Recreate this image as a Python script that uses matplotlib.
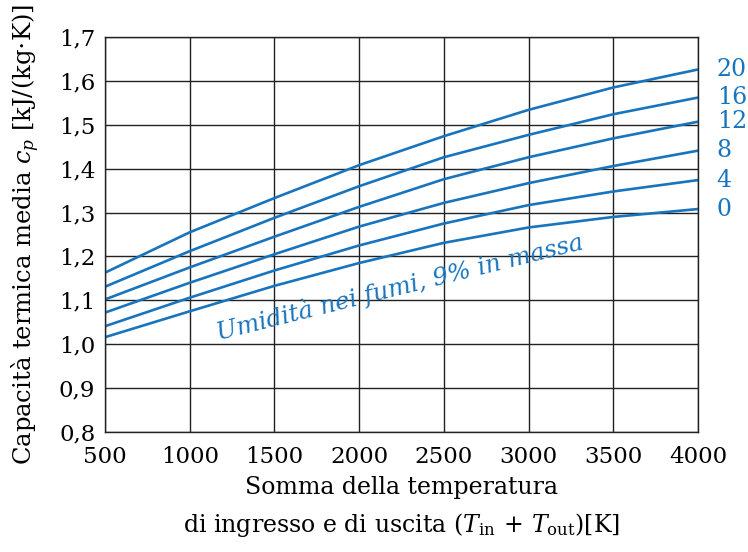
import numpy as np
import matplotlib.pyplot as plt
from matplotlib.ticker import FuncFormatter

plt.rcParams['font.family'] = ['DejaVu Serif']
plt.rcParams['mathtext.fontset'] = 'dejavuserif'

# data
temp_sum = [500, 1000, 1500, 2000, 2500, 3000, 3500, 4000]
humidity = [20, 16, 12, 8, 4, 0]
cp = {
    20: [1.163, 1.255, 1.333, 1.408, 1.474, 1.534, 1.585, 1.626],
    16: [1.131, 1.212, 1.288, 1.360, 1.426, 1.477, 1.524, 1.562],
    12: [1.102, 1.175, 1.245, 1.313, 1.376, 1.426, 1.469, 1.507],
    8:  [1.072, 1.140, 1.205, 1.268, 1.322, 1.367, 1.406, 1.441],
    4:  [1.041, 1.106, 1.168, 1.225, 1.275, 1.317, 1.348, 1.374],
    0:  [1.016, 1.075, 1.133, 1.185, 1.231, 1.266, 1.290, 1.308],
}
x_ticks = [500, 1000, 1500, 2000, 2500, 3000, 3500, 4000]
y_ticks = [0.8, 0.9, 1.0, 1.1, 1.2, 1.3, 1.4, 1.5, 1.6, 1.7]

blue = '#1874bd'

fig = plt.figure(figsize=(7.48, 5.52), dpi=100)
ax = fig.add_axes([0.1404, 0.2174, 0.7928, 0.7156])

for h in humidity:
    ax.plot(temp_sum, cp[h], color=blue, lw=1.9, solid_capstyle='butt')
    ax.text(4110, cp[h][-1], str(h), color=blue, fontsize=17,
            va='center', ha='left', clip_on=False)

ax.text(2240, 1.13, 'Umidità nei fumi, 9% in massa', color=blue,
        fontsize=17.5, style='italic', rotation=14,
        ha='center', va='center', rotation_mode='anchor')

ax.set_xlim(500, 4000)
ax.set_ylim(0.8, 1.7)
ax.set_xticks(x_ticks)
ax.set_yticks(y_ticks)
ax.yaxis.set_major_formatter(FuncFormatter(lambda v, p: f'{v:.1f}'.replace('.', ',')))
ax.tick_params(length=0, labelsize=16.5, pad=7)
ax.tick_params(axis='x', pad=10)
ax.grid(True, color='#222222', lw=1.0)
ax.set_axisbelow(True)
for s in ax.spines.values():
    s.set_color('#222222')
    s.set_linewidth(1.0)

ax.set_ylabel(r'Capacità termica media $c_p$ [kJ/(kg$\cdot$K)]', fontsize=17.5, labelpad=12)
ax.set_xlabel('Somma della temperatura\n'
              r'di ingresso e di uscita $\left(T_{\rm in}\,+\,T_{\rm out}\right)$[K]',
              fontsize=17, labelpad=6, linespacing=1.55)

fig.savefig('out.png', dpi=100)
